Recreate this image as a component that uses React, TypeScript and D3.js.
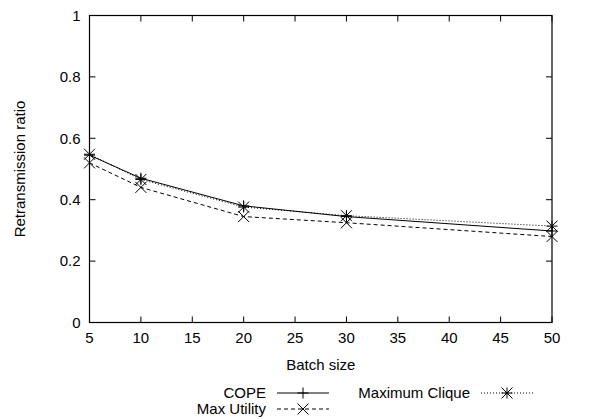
import React from 'react';
import * as d3 from 'd3';

const W = 602;
const H = 419;
const margin = { top: 15.5, right: 50, bottom: 96.5, left: 89.5 };

const batchSizes = [5, 10, 20, 30, 50];
const copeValues = [0.545, 0.47, 0.38, 0.345, 0.298];
const maxUtilityValues = [0.52, 0.44, 0.345, 0.325, 0.28];
const maxCliqueValues = [0.548, 0.466, 0.376, 0.348, 0.314];

const xTicks = [5, 10, 15, 20, 25, 30, 35, 40, 45, 50];
const yTicks = [0, 0.2, 0.4, 0.6, 0.8, 1];

const font = '"Liberation Sans", Arial, Helvetica, sans-serif';

type Marker = 'plus' | 'cross' | 'star';

const series: { name: string; values: number[]; dash: string; marker: Marker }[] = [
  { name: 'COPE', values: copeValues, dash: '', marker: 'plus' },
  { name: 'Max Utility', values: maxUtilityValues, dash: '4,3', marker: 'cross' },
  { name: 'Maximum Clique', values: maxCliqueValues, dash: '1,2', marker: 'star' },
];

function markerPath(kind: Marker, cx: number, cy: number, r = 5.5) {
  const plus = `M${cx - r},${cy}H${cx + r}M${cx},${cy - r}V${cy + r}`;
  const cross = `M${cx - r},${cy - r}L${cx + r},${cy + r}M${cx - r},${cy + r}L${cx + r},${cy - r}`;
  if (kind === 'plus') return plus;
  if (kind === 'cross') return cross;
  return plus + cross;
}

export default function App() {
  const x0 = margin.left;
  const x1 = W - margin.right;
  const y0 = H - margin.bottom;
  const y1 = margin.top;
  const x = d3.scaleLinear().domain([5, 50]).range([x0, x1]);
  const y = d3.scaleLinear().domain([0, 1]).range([y0, y1]);
  const line = d3
    .line<number>()
    .x((_, i) => x(batchSizes[i]))
    .y((d) => y(d));

  const tick = 6;

  // legend: gnuplot style two columns, label right-aligned before the sample
  const legend = [
    { s: series[0], textX: 266, sx0: 277, sx1: 329, ly: 393 },
    { s: series[1], textX: 266, sx0: 277, sx1: 329, ly: 409 },
    { s: series[2], textX: 470, sx0: 481, sx1: 533, ly: 393 },
  ];

  return (
    <svg width={W} height={H} style={{ position: 'absolute', left: 0, top: 0, background: 'white' }}>
      <g fontFamily={font} fontSize={15} fill="black">
        {yTicks.map((t) => (
          <g key={'y' + t}>
            <line x1={x0} x2={x0 + tick} y1={y(t)} y2={y(t)} stroke="black" />
            <line x1={x1} x2={x1 - tick} y1={y(t)} y2={y(t)} stroke="black" />
            <text x={x0 - 9} y={y(t)} dy="0.35em" textAnchor="end">
              {t}
            </text>
          </g>
        ))}
        {xTicks.map((t) => (
          <g key={'x' + t}>
            <line x1={x(t)} x2={x(t)} y1={y0} y2={y0 - tick} stroke="black" />
            <line x1={x(t)} x2={x(t)} y1={y1} y2={y1 + tick} stroke="black" />
            <text x={x(t)} y={y0 + 20} textAnchor="middle">
              {t}
            </text>
          </g>
        ))}
        <rect x={x0} y={y1} width={x1 - x0} height={y0 - y1} fill="none" stroke="black" strokeWidth={1.2} />

        <text x={(x0 + x1) / 2} y={370} textAnchor="middle">
          Batch size
        </text>
        <text transform={`translate(25,${(y0 + y1) / 2}) rotate(-90)`} textAnchor="middle">
          Retransmission ratio
        </text>

        {series.map((s) => (
          <g key={s.name}>
            <path d={line(s.values) ?? ''} fill="none" stroke="black" strokeWidth={1} strokeDasharray={s.dash} />
            {s.values.map((v, i) => (
              <path key={i} d={markerPath(s.marker, x(batchSizes[i]), y(v))} stroke="black" strokeWidth={1} fill="none" />
            ))}
          </g>
        ))}

        {legend.map(({ s, textX, sx0, sx1, ly }) => (
          <g key={'lg' + s.name}>
            <text x={textX} y={ly} dy="0.35em" textAnchor="end">
              {s.name}
            </text>
            <line x1={sx0} x2={sx1} y1={ly} y2={ly} stroke="black" strokeDasharray={s.dash} />
            <path d={markerPath(s.marker, (sx0 + sx1) / 2, ly)} stroke="black" fill="none" />
          </g>
        ))}
      </g>
    </svg>
  );
}
